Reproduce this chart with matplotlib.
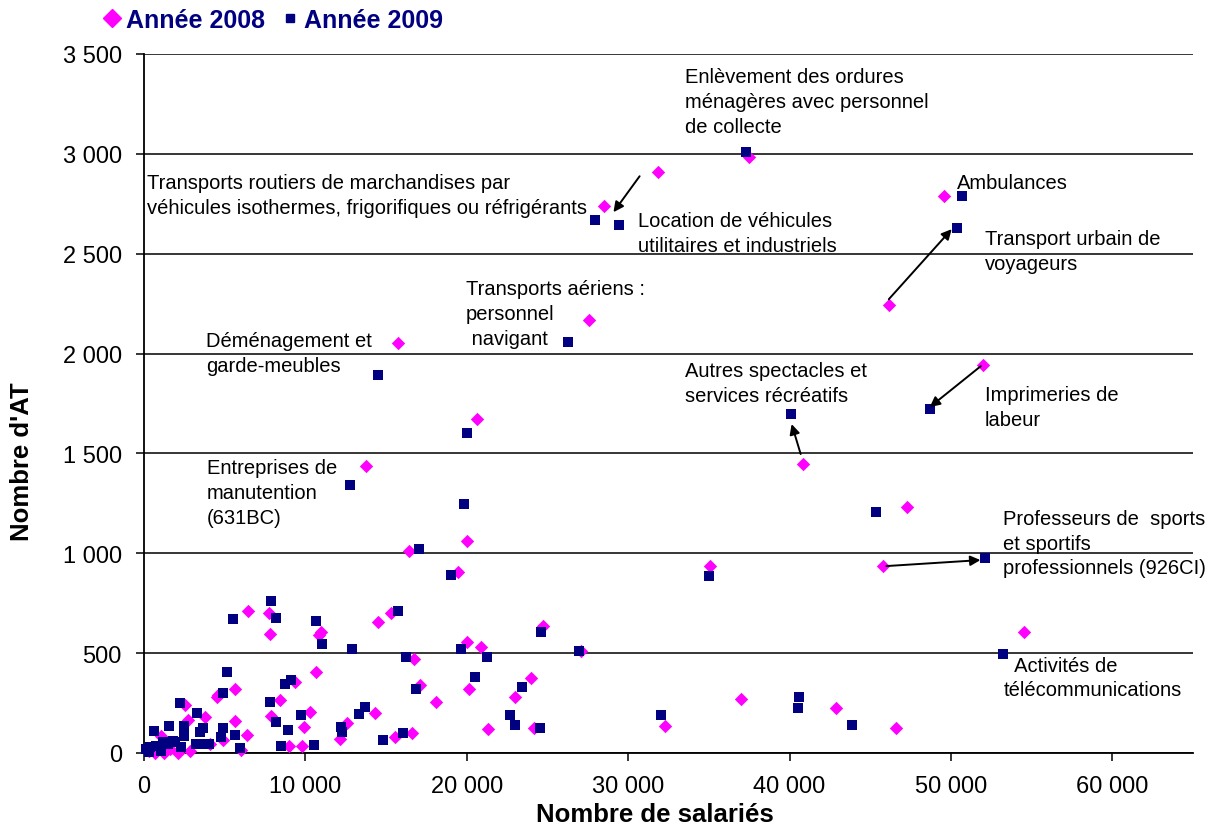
import matplotlib
matplotlib.use("Agg")
import matplotlib.pyplot as plt
from matplotlib.lines import Line2D
from matplotlib.ticker import FuncFormatter, MultipleLocator

plt.rcParams['font.family'] = ['Liberation Sans', 'DejaVu Sans']

# ---- data: (Nombre de salariés, Nombre d'AT) ----
x_2008 = [37480, 49550, 31830, 28480, 46150, 27550, 15720, 51970, 20610, 40810,
          13740, 47260, 19990, 16400, 19430, 35060, 45770, 54510, 36970, 42850,
          46590, 32260, 21300,
          24720, 27100, 24000, 24150, 22970, 20010, 20860, 20120, 16730, 17080,
          18070, 15290, 14510, 14300, 12580, 12120, 15530, 16610,
          6440, 7750, 7790, 10990, 10840, 10640, 5640, 4590, 2520, 9380, 8430,
          7870, 10270, 9900, 5660, 6400, 2700, 3760, 1080, 4900, 4070, 6030,
          8960, 9810, 660, 1260, 2110, 2830, 300, 1600, 4520]
y_2008 = [2983, 2790, 2908, 2738, 2242, 2167, 2052, 1942, 1672, 1446,
          1436, 1231, 1061, 1011, 906, 936, 936, 606, 270, 225,
          125, 135, 120,
          634, 512, 374, 124, 282, 554, 529, 320, 470, 340,
          257, 701, 654, 199, 149, 70, 82, 100,
          709, 701, 594, 604, 591, 405, 322, 290, 242, 354, 265,
          187, 207, 132, 159, 92, 165, 179, 87, 65, 45, 15,
          33, 37, 0, 0, 0, 12, 10, 20, 282]

x_2009 = [37280, 50680, 50370, 27920, 29410, 26250, 14480, 19990, 40080, 48680,
          12740, 19810, 45330, 17010, 19000, 35000, 52090, 53200, 32010, 40570,
          40500, 43840,
          24620, 26950, 23440, 24520, 15740, 12890, 16260, 19620, 21280, 20530,
          16880, 13720, 13300, 22660, 23010, 12190, 12270, 16050, 14810,
          7890, 5540, 8160, 10640, 11050, 5120, 4900, 2250, 8720, 9110, 7790,
          3310, 9710, 8200, 1530, 2480, 3650, 4900, 620, 3450, 2480, 4800,
          5620, 8900, 1800, 3240, 3620, 4030, 1240, 1180, 5930, 8510, 10530,
          100, 350, 770, 1490, 2310, 1080, 310, 1900]
y_2009 = [3008, 2790, 2631, 2668, 2643, 2057, 1892, 1602, 1697, 1722,
          1341, 1246, 1206, 1021, 891, 886, 976, 496, 190, 280,
          225, 140,
          604, 512, 329, 124, 709, 521, 479, 521, 479, 379,
          320, 232, 197, 190, 140, 132, 107, 98, 65,
          759, 669, 676, 661, 546, 405, 300, 249, 344, 364, 255,
          200, 189, 154, 133, 133, 124, 124, 112, 104, 87, 82,
          90, 115, 62, 45, 45, 45, 45, 53, 25, 33, 42,
          20, 28, 37, 45, 28, 12, 5, 53]

series_labels = ["Année 2008", "Année 2009"]
x_ticks = [0, 10000, 20000, 30000, 40000, 50000, 60000]
y_ticks = [0, 500, 1000, 1500, 2000, 2500, 3000, 3500]

# annotations: text, (x, y) of text centre-left
notes = [
    ("Enlèvement des ordures\nménagères avec personnel\nde collecte", 33500, 3263),
    ("Transports routiers de marchandises par\nvéhicules isothermes, frigorifiques ou réfrigérants", 167, 2793),
    ("Location de véhicules\nutilitaires et industriels", 30590, 2605),
    ("Ambulances", 50350, 2858),
    ("Transport urbain de\nvoyageurs", 52090, 2515),
    ("Transports aériens :\npersonnel\n navigant", 19930, 2200),
    ("Déménagement et\ngarde-meubles", 3820, 2002),
    ("Autres spectacles et\nservices récréatifs", 33500, 1854),
    ("Imprimeries de\nlabeur", 52090, 1734),
    ("Entreprises de\nmanutention\n(631BC)", 3880, 1304),
    ("Professeurs de  sports\net sportifs\nprofessionnels (926CI)", 53200, 1051),
    ("  Activités de\ntélécommunications", 53260, 378),
]
# arrows: (tail x, tail y, head x, head y)
arrows = [
    (30710, 2888, 29090, 2708),
    (46150, 2272, 50050, 2623),
    (51850, 1937, 48690, 1732),
    (40690, 1497, 40130, 1647),
    (46000, 936, 51830, 966),
]

MAGENTA = "#FF00FF"
NAVY = "#000080"

fig = plt.figure(figsize=(12.19, 8.29), dpi=100)
ax = fig.add_axes([144 / 1219, 1 - 754 / 829, (1193 - 144) / 1219, (754 - 55) / 829])

ax.scatter(x_2008, y_2008, marker='D', s=6.8 ** 2, color=MAGENTA, linewidths=0,
           zorder=3, clip_on=False)
ax.scatter(x_2009, y_2009, marker='s', s=7.4 ** 2, color=NAVY, linewidths=0,
           zorder=4, clip_on=False)

ax.set_xlim(0, 65000)
ax.set_ylim(0, 3500)
ax.xaxis.set_major_locator(MultipleLocator(10000))
ax.set_xticks(x_ticks)
ax.set_yticks(y_ticks)
fmt = FuncFormatter(lambda v, p: f"{int(v):,}".replace(",", " "))
ax.xaxis.set_major_formatter(fmt)
ax.yaxis.set_major_formatter(fmt)
ax.tick_params(axis='both', direction='out', length=6, width=1.1, labelsize=17,
               pad=10, color='black')
ax.yaxis.grid(True, color='black', linewidth=1.1, zorder=1)
ax.set_axisbelow(True)
for s in ['top', 'right']:
    ax.spines[s].set_visible(False)
for s in ['left', 'bottom']:
    ax.spines[s].set_linewidth(1.3)
    ax.spines[s].set_color('black')

ax.set_xlabel("Nombre de salariés", fontsize=18.5, fontweight='bold')
ax.xaxis.set_label_coords((655 - 144) / 1049, (754 - 815) / 699)
ax.xaxis.label.set_va('center')
ax.set_ylabel("Nombre d'AT", fontsize=18.5, fontweight='bold')
ax.yaxis.set_label_coords((22 - 144) / 1049, (754 - 462) / 699)
ax.yaxis.label.set_va('center')

for txt, tx, ty in notes:
    ax.text(tx, ty, txt, fontsize=14.5, ha='left', va='center', linespacing=1.38,
            zorder=5)

for x0, y0, x1, y1 in arrows:
    ax.annotate("", xy=(x1, y1), xytext=(x0, y0),
                arrowprops=dict(arrowstyle='-|>', color='black', lw=1.4,
                                mutation_scale=15, shrinkA=0, shrinkB=0),
                zorder=5)

handles = [
    Line2D([], [], marker='D', linestyle='none', color=MAGENTA, markersize=9),
    Line2D([], [], marker='s', linestyle='none', color=NAVY, markersize=6),
]
leg = fig.legend(handles, series_labels, ncol=2, frameon=False,
                 loc='center left', bbox_to_anchor=(104 / 1219, 1 - 21 / 829),
                 prop={'weight': 'bold', 'size': 18}, labelcolor=NAVY,
                 handlelength=0.6, handletextpad=0.3, columnspacing=0.66,
                 borderpad=0, borderaxespad=0)

fig.savefig("out.png", dpi=100)
